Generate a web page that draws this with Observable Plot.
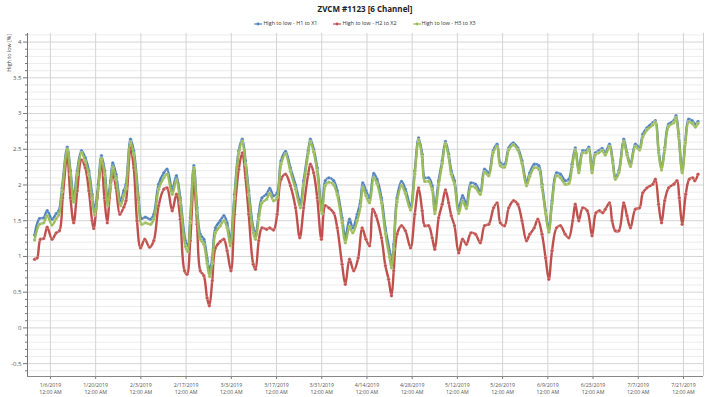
<!DOCTYPE html>
<html><head><meta charset="utf-8">
<script src="https://cdn.jsdelivr.net/npm/d3@7"></script>
<script src="https://cdn.jsdelivr.net/npm/@observablehq/plot@0.6"></script>
<style>
body{margin:0;background:#fff;font-family:"Open Sans",sans-serif;}
#wrap{position:relative;width:706px;height:397px;overflow:hidden;}
#title{position:absolute;left:27px;top:3px;width:676px;text-align:center;font-weight:bold;font-size:8px;color:#222;line-height:12px;}
#legend{position:absolute;left:27px;top:18px;width:676px;text-align:center;font-size:5.4px;color:#333;line-height:10px;white-space:nowrap;}
#legend span.item{display:inline-block;margin:0 8px;}
#legend svg{vertical-align:middle;margin-right:1px;}
#ylabel{position:absolute;left:5px;top:34px;font-size:5.4px;color:#444;writing-mode:vertical-rl;transform:rotate(180deg);line-height:8px;}
#chart{position:absolute;left:0;top:0;}
</style>
</head><body>
<div id="wrap">
<div id="chart"></div>
<div id="title"></div>
<div id="legend"></div>
<div id="ylabel"></div>
</div>
<script>
const chartTitle = "ZVCM #1123 [6 Channel]";
const yLabel = "High to low [%]";
const seriesNames = ["High to low - H1 to X1", "High to low - H2 to X2", "High to low - H3 to X3"];
const seriesColors = ["#4F81BD", "#C0504D", "#9BBB59"];
const startDate = "2019-01-01";
const xTickDates = ["2019-01-06","2019-01-20","2019-02-03","2019-02-17","2019-03-03","2019-03-17","2019-03-31","2019-04-14","2019-04-28","2019-05-12","2019-05-26","2019-06-09","2019-06-23","2019-07-07","2019-07-21"];
const xTimeLabel = "12:00 AM";
const yMajorTicks = [-0.5,0,0.5,1,1.5,2,2.5,3,3.5,4];
const yMinorTicks = [-0.6,-0.4,-0.3,-0.2,-0.1,0.1,0.2,0.3,0.4,0.6,0.7,0.8,0.9,1.1,1.2,1.3,1.4,1.6,1.7,1.8,1.9,2.1,2.2,2.3,2.4,2.6,2.7,2.8,2.9,3.1,3.2,3.3,3.4,3.6,3.7,3.8,3.9,4.1];
const yDomain = [-0.68, 4.12];
const xDomainDays = [-2.1, 207.2];

// days since start date
const h1Days = [0.1,1.6,2.9,4.0,5.5,6.8,7.6,8.6,10.2,11.2,12.2,13.3,14.6,15.8,16.9,17.9,18.7,19.8,20.8,21.8,22.7,23.6,24.3,25.3,26.7,27.7,28.4,29.8,30.8,32.3,33.2,34.4,36.0,37.0,38.5,40.1,41.1,42.7,44.0,45.2,46.8,47.5,48.3,49.4,50.4,51.4,52.5,53.5,54.3,55.1,56.1,57.6,58.7,59.7,60.7,62.0,63.3,64.4,65.4,66.4,67.8,68.5,69.5,70.5,71.9,72.9,74.1,75.2,76.4,77.8,79.3,80.9,82.4,83.4,84.8,85.5,86.5,87.6,89.1,90.1,91.2,92.7,93.8,95.3,96.3,97.6,98.6,100.0,101.0,101.7,102.7,103.8,105.1,106.1,107.5,108.7,110.0,110.6,111.3,112.3,113.7,114.9,116.5,117.8,119.0,120.1,120.9,122.1,123.2,124.0,125.2,126.3,127.3,128.3,129.1,130.1,131.4,132.6,133.8,135.2,136.6,138.1,139.4,140.7,142.1,143.3,144.3,145.6,146.9,148.3,149.7,151.0,152.4,153.4,154.8,156.2,157.2,158.3,159.3,160.3,161.7,162.9,164.4,165.5,166.5,167.5,168.6,169.8,170.9,171.7,172.7,173.7,174.8,175.8,176.8,178.1,179.1,179.9,181.0,182.5,183.5,184.6,186.1,187.4,188.4,189.7,191.5,192.3,193.3,194.2,195.2,196.4,198.0,198.7,199.5,200.6,201.6,202.6,203.7,204.7,205.5];
const h1Vals = [1.30,1.53,1.54,1.64,1.52,1.60,1.64,1.96,2.53,2.20,1.82,2.20,2.48,2.38,2.20,1.87,1.65,2.01,2.41,2.20,1.78,2.06,2.31,2.15,1.78,1.92,2.01,2.64,2.48,1.82,1.53,1.55,1.52,1.59,2.01,2.17,2.22,1.94,2.13,1.82,1.22,1.15,1.54,2.27,1.68,1.31,1.24,0.98,0.80,0.98,1.40,1.50,1.57,1.47,1.22,1.87,2.48,2.64,2.34,1.92,1.40,1.31,1.59,1.82,1.87,1.95,1.85,1.89,2.34,2.47,2.24,2.00,1.75,2.06,2.48,2.64,2.50,2.24,1.66,2.06,2.10,2.06,1.92,1.54,1.26,1.52,1.40,1.59,1.78,2.03,1.92,1.82,2.16,2.08,1.82,1.40,1.08,0.91,1.17,1.82,2.05,1.94,1.71,2.20,2.66,2.43,2.10,2.10,1.99,1.66,2.06,2.34,2.61,2.43,2.20,2.06,1.66,1.85,1.73,2.03,2.01,1.92,2.22,2.17,2.48,2.57,2.31,2.29,2.52,2.59,2.52,2.34,2.03,2.17,2.29,2.27,2.01,1.64,1.38,1.78,2.17,2.15,2.06,2.08,2.29,2.52,2.20,2.48,2.48,2.53,2.20,2.45,2.48,2.51,2.45,2.57,2.34,2.11,2.20,2.64,2.45,2.29,2.57,2.52,2.71,2.80,2.87,2.90,2.48,2.24,2.52,2.85,2.90,2.97,2.71,2.20,2.62,2.92,2.90,2.85,2.89];

const h3Days = h1Days.slice();
const h3Vals = [1.23,1.45,1.47,1.57,1.44,1.53,1.58,1.91,2.50,2.15,1.76,2.15,2.45,2.33,2.14,1.80,1.58,1.95,2.37,2.14,1.71,1.99,2.25,2.08,1.71,1.85,1.95,2.60,2.43,1.75,1.45,1.47,1.45,1.52,1.94,2.10,2.15,1.87,2.07,1.75,1.14,1.07,1.48,2.24,1.62,1.24,1.17,0.90,0.72,0.91,1.33,1.43,1.50,1.40,1.15,1.82,2.44,2.61,2.29,1.86,1.33,1.24,1.52,1.75,1.80,1.88,1.78,1.83,2.29,2.43,2.19,1.94,1.68,2.00,2.44,2.61,2.46,2.19,1.60,1.99,2.04,2.00,1.86,1.47,1.19,1.42,1.33,1.50,1.70,1.97,1.85,1.75,2.10,2.02,1.75,1.32,0.99,0.84,1.10,1.76,1.99,1.88,1.65,2.15,2.63,2.39,2.05,2.05,1.93,1.60,2.00,2.30,2.58,2.39,2.15,2.01,1.60,1.78,1.67,1.98,1.96,1.87,2.18,2.13,2.45,2.54,2.27,2.25,2.49,2.56,2.49,2.30,1.99,2.12,2.24,2.22,1.97,1.60,1.34,1.74,2.13,2.10,2.01,2.02,2.25,2.49,2.17,2.45,2.45,2.50,2.17,2.42,2.45,2.48,2.42,2.54,2.31,2.08,2.17,2.61,2.42,2.26,2.54,2.49,2.67,2.77,2.84,2.88,2.45,2.21,2.49,2.82,2.87,2.94,2.68,2.17,2.59,2.88,2.86,2.81,2.86];

const h2Days = [0.1,0.9,1.9,2.9,4.0,5.5,6.8,7.8,8.8,10.2,11.2,12.2,13.3,14.6,15.8,16.9,17.9,18.4,19.5,20.8,21.7,22.6,23.3,24.3,25.3,26.5,27.7,28.4,29.8,30.8,31.8,32.9,34.2,35.7,37.0,38.5,40.1,41.1,42.7,44.0,45.2,46.5,47.3,48.3,49.4,50.4,51.4,52.5,53.5,54.2,55.1,56.1,57.6,58.7,59.7,60.9,62.0,63.3,64.4,65.4,66.4,67.8,68.5,69.5,70.5,71.9,72.9,74.1,75.2,76.4,77.8,79.3,80.9,82.2,83.4,84.8,85.5,86.5,87.6,88.9,90.1,91.2,92.7,93.8,95.3,96.3,97.6,98.9,100.3,101.5,102.7,103.8,104.8,105.8,107.5,108.7,109.7,110.6,111.3,112.3,113.7,114.9,116.5,117.8,119.0,120.1,120.9,122.1,123.2,124.0,125.2,126.3,127.3,128.3,129.1,130.1,131.4,132.6,133.8,135.2,136.6,138.1,139.4,140.7,142.2,143.3,144.3,145.6,146.9,148.4,149.7,151.0,152.4,153.4,154.8,155.9,157.2,158.3,159.3,160.3,161.7,162.9,164.4,165.5,166.7,167.5,168.6,169.8,171.2,172.7,173.9,175.0,176.0,176.8,178.1,178.9,179.9,181.0,182.5,183.5,184.6,186.1,187.4,188.4,189.7,191.5,192.3,193.3,194.2,195.2,196.4,198.0,199.0,199.7,200.6,201.7,202.8,203.9,204.5,205.5];
const h2Vals = [0.96,0.98,1.24,1.25,1.41,1.24,1.33,1.36,1.82,2.41,1.82,1.47,1.92,2.35,2.24,1.92,1.50,1.39,1.82,2.31,1.82,1.47,1.82,2.16,1.96,1.59,1.69,1.78,2.52,2.24,1.50,1.12,1.24,1.13,1.22,1.71,1.94,1.96,1.64,1.87,1.52,0.80,0.75,1.22,2.03,1.45,0.80,0.73,0.42,0.31,0.66,1.12,1.21,1.24,1.08,0.80,1.59,2.22,2.45,2.10,1.59,0.89,0.82,1.22,1.40,1.38,1.40,1.37,1.59,2.08,2.15,1.99,1.68,1.26,1.68,2.15,2.29,2.17,1.82,1.24,1.71,1.68,1.61,1.40,0.89,0.61,0.96,0.80,0.98,1.40,1.24,1.15,1.66,1.57,1.26,0.87,0.68,0.45,0.80,1.31,1.43,1.36,1.12,1.59,1.96,1.64,1.43,1.43,1.26,1.10,1.54,1.73,1.93,1.75,1.57,1.43,1.05,1.24,1.17,1.33,1.31,1.19,1.43,1.45,1.68,1.75,1.47,1.43,1.68,1.78,1.73,1.50,1.22,1.31,1.40,1.52,1.31,0.98,0.68,1.08,1.40,1.43,1.31,1.26,1.50,1.73,1.50,1.68,1.64,1.29,1.61,1.64,1.61,1.66,1.75,1.50,1.36,1.36,1.75,1.57,1.40,1.66,1.68,1.89,1.96,2.01,2.08,1.73,1.47,1.78,1.96,2.01,2.06,1.82,1.45,1.87,2.08,2.10,2.06,2.15];

const DAY = 864e5;
const t0 = new Date(startDate + "T00:00:00Z").getTime();
const toDate = d => new Date(t0 + d * DAY);
function rows(days, vals, name) { return days.map((d, i) => ({date: toDate(d), value: vals[i], series: name})); }
const dH1 = rows(h1Days, h1Vals, seriesNames[0]);
const dH2 = rows(h2Days, h2Vals, seriesNames[1]);
const dH3 = rows(h3Days, h3Vals, seriesNames[2]);
const xTicks = xTickDates.map(s => new Date(s + "T00:00:00Z"));
const fmtDate = d => `${d.getUTCMonth()+1}/${d.getUTCDate()}/${d.getUTCFullYear()}\n${xTimeLabel}`;
const xDomain = xDomainDays.map(toDate);

const lineOpts = (c) => ({x: "date", y: "value", stroke: c, strokeWidth: 2.4, curve: "catmull-rom"});
const dotOpts = (c) => ({x: "date", y: "value", fill: c, r: 1.7, stroke: "white", strokeOpacity: 0.4, strokeWidth: 0.6});

const chart = Plot.plot({
  width: 706, height: 397,
  marginLeft: 27, marginRight: 3, marginTop: 33, marginBottom: 21,
  style: {fontFamily: "'Open Sans', sans-serif", background: "transparent"},
  x: {type: "utc", domain: xDomain},
  y: {domain: yDomain},
  marks: [
    Plot.gridY(yMinorTicks, {stroke: "#ececec", strokeOpacity: 1, strokeWidth: 1}),
    Plot.gridY(yMajorTicks, {stroke: "#d4d4d4", strokeOpacity: 1, strokeWidth: 1}),
    Plot.gridX(xTicks, {stroke: "#d4d4d4", strokeOpacity: 1, strokeWidth: 1}),
    Plot.ruleX([xDomain[1]], {stroke: "#d0d0d0"}),
    Plot.axisY(yMinorTicks, {tickSize: 2, text: null, label: null, stroke: "#777"}),
    Plot.axisY(yMajorTicks, {tickSize: 4, tickPadding: 2, tickFormat: d => String(d), label: null, fontSize: 6, fill: "#555", stroke: "#777"}),
    Plot.axisX(xTicks, {tickSize: 3, tickPadding: 3, tickFormat: fmtDate, label: null, fontSize: 5.2, fill: "#555", stroke: "#777", lineHeight: 1.25}),
    Plot.ruleX([xDomain[0]], {stroke: "#777"}),
    Plot.ruleY([yDomain[0]], {stroke: "#888"}),
    Plot.line(dH1, lineOpts(seriesColors[0])),
    Plot.dot(dH1, dotOpts(seriesColors[0])),
    Plot.line(dH2, lineOpts(seriesColors[1])),
    Plot.dot(dH2, dotOpts(seriesColors[1])),
    Plot.line(dH3, lineOpts(seriesColors[2])),
    Plot.dot(dH3, dotOpts(seriesColors[2]))
  ]
});
document.getElementById("chart").appendChild(chart);
document.getElementById("title").textContent = chartTitle;
document.getElementById("ylabel").textContent = yLabel;
const lg = document.getElementById("legend");
seriesNames.forEach((n, i) => {
  const item = document.createElement("span");
  item.className = "item";
  item.innerHTML = `<svg width="8" height="6"><line x1="0" x2="8" y1="3" y2="3" stroke="${seriesColors[i]}" stroke-width="1.2"/><circle cx="4" cy="3" r="1.4" fill="${seriesColors[i]}"/></svg>`;
  item.appendChild(document.createTextNode(n));
  lg.appendChild(item);
});
</script>
</body></html>
